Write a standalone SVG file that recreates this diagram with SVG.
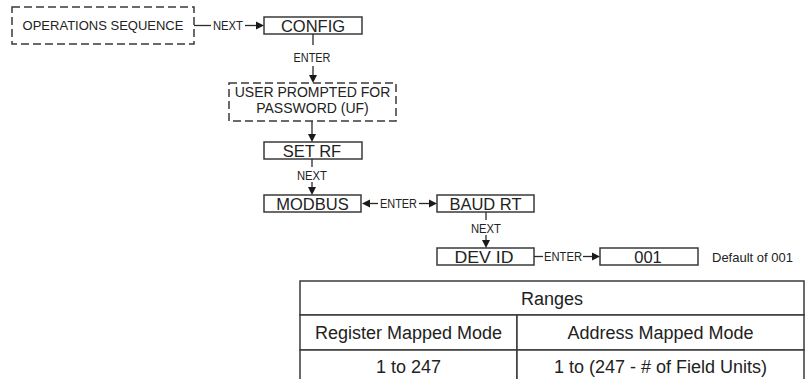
<svg xmlns="http://www.w3.org/2000/svg" width="810" height="379" viewBox="0 0 810 379">
<defs>
<style>
.box{fill:#fff;stroke:#3a3a3a;stroke-width:1.5}
.dbox{fill:#fff;stroke:#3a3a3a;stroke-width:1.5;stroke-dasharray:8 4}
.ln{stroke:#2a2a2a;stroke-width:1.3;fill:none}
.ah{fill:#1a1a1a}
text{font-family:"Liberation Sans",Arial,sans-serif;fill:#222}
.big{font-size:16.5px;text-anchor:middle}
.sm{font-size:12.5px;text-anchor:middle}
.mid{font-size:13px}
.tb{font-size:18px;text-anchor:middle}
.cell{fill:#fff;stroke:#3a3a3a;stroke-width:1.5}
</style>
</defs>
<rect width="810" height="379" fill="#fff"/>

<g id="ops">
<rect class="dbox" x="12" y="7" width="182" height="37"/>
<text class="mid" x="103" y="30" text-anchor="middle">OPERATIONS SEQUENCE</text>
</g>
<g id="config">
<rect class="box" x="264" y="17" width="98" height="17"/>
<text class="big" x="313" y="31.5">CONFIG</text>
</g>
<g id="password">
<rect class="dbox" x="229" y="83" width="167" height="38"/>
<text x="312.5" y="97" font-size="14" text-anchor="middle">USER PROMPTED FOR</text>
<text x="312.5" y="113" font-size="14" text-anchor="middle">PASSWORD (UF)</text>
</g>
<g id="setrf">
<rect class="box" x="264" y="142" width="98" height="17"/>
<text class="big" x="312" y="156.5">SET RF</text>
</g>
<g id="modbus">
<rect class="box" x="264" y="195" width="97" height="17"/>
<text class="big" x="312.5" y="209.5">MODBUS</text>
</g>
<g id="baudrt">
<rect class="box" x="437" y="195" width="97" height="17"/>
<text class="big" x="485.5" y="209.5">BAUD RT</text>
</g>
<g id="devid">
<rect class="box" x="437" y="248" width="97" height="17"/>
<text class="big" x="484" y="262.5" textLength="59" lengthAdjust="spacingAndGlyphs">DEV ID</text>
</g>
<g id="val001">
<rect class="box" x="600" y="248" width="98" height="17"/>
<text class="big" x="648" y="262.5">001</text>
</g>
<g id="default-note">
<text class="mid" x="712" y="262">Default of 001</text>
</g>

<g id="connectors">
<!-- OPS -> CONFIG -->
<line class="ln" x1="194" y1="25.5" x2="211" y2="25.5"/>
<text class="sm" x="228" y="30" textLength="30" lengthAdjust="spacingAndGlyphs">NEXT</text>
<line class="ln" x1="245" y1="25.5" x2="257" y2="25.5"/>
<polygon class="ah" points="264,25.5 256,21.5 256,29.5"/>
<!-- CONFIG -> PASSWORD -->
<line class="ln" x1="313" y1="34" x2="313" y2="45"/>
<text class="sm" x="312" y="62" textLength="37" lengthAdjust="spacingAndGlyphs">ENTER</text>
<line class="ln" x1="313" y1="66" x2="313" y2="76"/>
<polygon class="ah" points="313,83 309,75 317,75"/>
<!-- PASSWORD -> SET RF -->
<line class="ln" x1="312" y1="121" x2="312" y2="135"/>
<polygon class="ah" points="312,142 308,134 316,134"/>
<!-- SET RF -> MODBUS -->
<line class="ln" x1="312" y1="159" x2="312" y2="167"/>
<text class="sm" x="312" y="180" textLength="30" lengthAdjust="spacingAndGlyphs">NEXT</text>
<line class="ln" x1="312" y1="182" x2="312" y2="188"/>
<polygon class="ah" points="312,195 308,187 316,187"/>
<!-- MODBUS <-> BAUD RT -->
<polygon class="ah" points="362,203.5 370,199.5 370,207.5"/>
<line class="ln" x1="369" y1="203.5" x2="378" y2="203.5"/>
<text class="sm" x="398.5" y="208" textLength="37" lengthAdjust="spacingAndGlyphs">ENTER</text>
<line class="ln" x1="419" y1="203.5" x2="430" y2="203.5"/>
<polygon class="ah" points="437,203.5 429,199.5 429,207.5"/>
<!-- BAUD RT -> DEV ID -->
<line class="ln" x1="486" y1="212" x2="486" y2="220"/>
<text class="sm" x="486" y="233" textLength="30" lengthAdjust="spacingAndGlyphs">NEXT</text>
<line class="ln" x1="486" y1="235" x2="486" y2="241"/>
<polygon class="ah" points="486,248 482,240 490,240"/>
<!-- DEV ID -> 001 -->
<line class="ln" x1="534" y1="256.5" x2="543" y2="256.5"/>
<text class="sm" x="563" y="261" textLength="38" lengthAdjust="spacingAndGlyphs">ENTER</text>
<line class="ln" x1="583" y1="256.5" x2="593" y2="256.5"/>
<polygon class="ah" points="600,256.5 592,252.5 592,260.5"/>
</g>

<g id="ranges-table">
<rect class="cell" x="300" y="281" width="504" height="34"/>
<rect class="cell" x="300" y="315" width="217" height="35"/>
<rect class="cell" x="517" y="315" width="287" height="35"/>
<rect class="cell" x="300" y="350" width="217" height="40"/>
<rect class="cell" x="517" y="350" width="287" height="40"/>
<text class="tb" x="552" y="305">Ranges</text>
<text class="tb" x="408.5" y="339">Register Mapped Mode</text>
<text class="tb" x="660.5" y="339">Address Mapped Mode</text>
<text class="tb" x="408.5" y="373">1 to 247</text>
<text class="tb" x="660.5" y="373">1 to (247 - # of Field Units)</text>
</g>
</svg>
